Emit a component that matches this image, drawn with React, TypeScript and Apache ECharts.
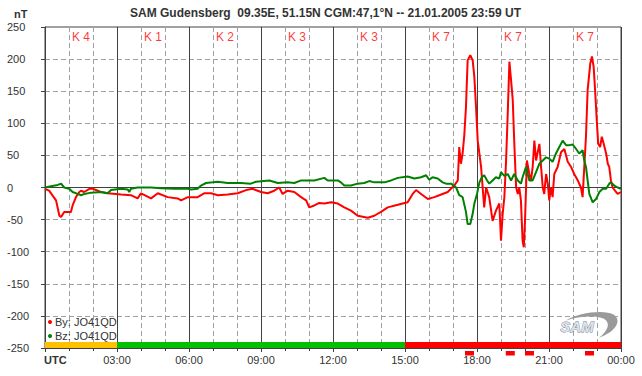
import React, { useEffect, useRef } from "react";
import * as echarts from "echarts";

// ---- data ----
const TITLE = "SAM Gudensberg  09.35E, 51.15N CGM:47,1°N -- 21.01.2005 23:59 UT";
const kValues = [4, 1, 2, 3, 3, 7, 7, 7];
const xTickLabels = ["UTC", "03:00", "06:00", "09:00", "12:00", "15:00", "18:00", "21:00", "00:00"];
const alertStarts = [17.5, 19.2, 20.0, 22.5];
const alertLength = 0.375;

const byHours = [
  0.0, 0.17, 0.46, 0.6, 0.67, 0.8, 1.08, 1.15, 1.29, 1.43, 1.5, 1.63, 1.85, 1.99, 2.2, 2.33, 2.61, 3.17, 3.58, 3.86,
  4.0, 4.42, 4.7, 5.11, 5.53, 5.67, 5.95, 6.36, 6.63, 6.92, 7.2, 7.61, 8.03, 8.38, 8.65, 9.0, 9.28, 9.55, 9.76, 9.9,
  10.11, 10.39, 10.67, 10.88, 11.01, 11.22, 11.43, 11.64, 11.92, 12.2, 12.47, 12.75, 13.03, 13.45, 13.72, 14.0, 14.28,
  14.7, 15.11, 15.32, 15.46, 15.67, 15.95, 16.22, 16.43, 16.78, 17.05, 17.2, 17.26, 17.33, 17.4, 17.47, 17.54, 17.61,
  17.72, 17.82, 17.89, 17.96, 18.03, 18.17, 18.3, 18.38, 18.51, 18.65, 18.79, 18.93, 19.0, 19.07, 19.14, 19.21, 19.28,
  19.35, 19.42, 19.49, 19.55, 19.63, 19.7, 19.76, 19.83, 19.9, 19.95, 20.0, 20.08, 20.18, 20.25, 20.32, 20.39, 20.46,
  20.6, 20.67, 20.74, 20.8, 20.88, 20.95, 21.01, 21.08, 21.15, 21.22, 21.36, 21.5, 21.64, 21.78, 21.92, 22.05, 22.2,
  22.33, 22.4, 22.47, 22.54, 22.61, 22.72, 22.79, 22.86, 22.92, 22.99, 23.05, 23.13, 23.2, 23.28, 23.38, 23.45, 23.51,
  23.58, 23.65, 23.75, 23.86, 24.0,
];
const byValues = [
  -2, -5, -20, -44, -46, -38, -38, -28, -15, -7, -5, -7, -2, -2, -5, -7, -9, -11, -12, -17,
  -9, -17, -9, -15, -17, -20, -15, -15, -9, -9, -12, -11, -9, -4, -2, -7, -9, -5, 0, -10,
  -5, -7, -15, -20, -31, -28, -24, -25, -23, -25, -31, -36, -44, -47, -44, -38, -31,
  -27, -23, -10, -4, -10, -18, -15, -12, -7, 3, 11, 63, 37, 53, 81, 125, 198,
  206, 198, 172, 125, 73, 32, -31, 0, -15, -52, -36, -25, -83, -41, -15, 40, 115,
  196, 167, 136, 73, 0, -10, 0, -20, -83, -93, -52, 42, 21, 11, 32, 73, 42,
  68, 32, 0, -10, 21, 6, -20, 0, -15, 21, 32, 55, 60, 40, 32, 21, 11,
  0, -15, 32, 79, 152, 193, 204, 188, 152, 105, 68, 63, 79, 68, 53, 37, 32,
  11, 0, -5, -10, -7,
];

const bzHours = [
  0.0, 0.25, 0.53, 0.67, 0.8, 1.01, 1.15, 1.36, 1.5, 1.64, 1.92, 2.33, 2.61, 2.75, 3.17, 3.45, 3.51, 3.58, 3.86, 4.42,
  4.83, 5.39, 5.95, 6.08, 6.36, 6.5, 6.71, 6.99, 7.2, 7.61, 8.17, 8.58, 8.79, 9.35, 9.7, 10.11, 10.39, 10.67, 11.22,
  11.64, 11.78, 12.2, 12.33, 12.47, 12.75, 13.03, 13.3, 13.51, 13.72, 14.14, 14.42, 14.7, 15.11, 15.39, 15.67, 15.88,
  16.01, 16.15, 16.36, 16.57, 16.71, 16.92, 17.13, 17.26, 17.4, 17.54, 17.61, 17.72, 17.82, 17.89, 18.0, 18.1, 18.2,
  18.3, 18.42, 18.51, 18.65, 18.79, 18.93, 19.0, 19.14, 19.28, 19.42, 19.55, 19.7, 19.83, 19.9, 20.04, 20.18, 20.32,
  20.46, 20.6, 20.74, 20.88, 21.01, 21.15, 21.29, 21.43, 21.57, 21.71, 21.85, 21.99, 22.13, 22.26, 22.4, 22.47, 22.54,
  22.61, 22.68, 22.82, 22.96, 23.1, 23.24, 23.38, 23.51, 23.58, 23.72, 23.86, 24.0,
];
const bzValues = [
  0, 2, 4, 6, 0, -2, -7, -10, -12, -10, -8, -7, -9, -4, -2, -3, -7, -2, 0, 0,
  -1, -2, -2, -3, -2, 3, 7, 8, 9, 7, 7, 6, 9, 11, 7, 8, 7, 11, 11,
  15, 11, 11, 8, 3, 3, 6, 7, 10, 8, 8, 11, 15, 17, 14, 16, 19,
  12, 16, 14, 8, 6, 6, 0, -12, -15, -38, -57, -57, -41, -25, -10, 8, 16,
  19, 11, 6, 11, 16, 14, 24, 18, 21, 11, 21, 11, 6, 16, 32, 11, 11,
  24, 37, 42, 47, 45, 40, 53, 63, 73, 66, 66, 67, 60, 53, 58, 42, 32,
  11, -10, -23, -18, -7, -2, -2, 6, 8, 3, 0, -2,
];

const zip = (xs: number[], ys: number[]) => xs.map((x, i) => [x, ys[i]]);

const kColor = (k: number) => (k >= 5 ? "#ff0000" : k === 4 ? "#ffc000" : "#00c000");

const SWOOSH =
  "M 0 9 C 12 1, 38 -3, 48 3 C 56 9, 50 21, 33 27 C 42 20, 45 11, 38 7 C 28 3, 12 5, 0 9 Z";

export default function App() {
  const ref = useRef<HTMLDivElement>(null);
  useEffect(() => {
    if (!ref.current) return;
    echarts.graphic.registerShape("swoosh", echarts.graphic.extendPath(SWOOSH, {}));
    const chart = echarts.init(ref.current, null, { renderer: "svg" });
    const axisColor = "#404040";
    const textColor = "#333333";
    const font = "Arial, 'Liberation Sans', sans-serif";
    const kData = kValues.map((k, i) => [i * 3 + 1.5, 235, k]);
    const bandData = kValues.map((k, i) => [i * 3, i * 3 + 3, k]);
    const alertData = alertStarts.map((s) => [s, s + alertLength]);

    chart.setOption({
      animation: false,
      backgroundColor: "#ffffff",
      textStyle: { fontFamily: font },
      grid: {
        left: 45,
        right: 21,
        top: 27,
        bottom: 28,
        show: true,
        borderColor: axisColor,
        borderWidth: 1,
        backgroundColor: "transparent",
      },
      legend: {
        orient: "vertical",
        left: 48,
        top: 316,
        padding: 0,
        icon: "circle",
        itemWidth: 4,
        itemHeight: 4,
        itemGap: 2,
        z: 20,
        data: ["By: JO41QD", "Bz: JO41QD"],
        textStyle: { fontSize: 11, color: textColor, fontFamily: font, padding: [0, 0, 0, -2], lineHeight: 12 },
        selectedMode: false,
      },
      xAxis: [
        {
          type: "value",
          min: 0,
          max: 24,
          interval: 3,
          axisLine: { show: true, onZero: false, lineStyle: { color: axisColor } },
          axisTick: { show: true, length: 4, lineStyle: { color: axisColor } },
          minorTick: { show: true, splitNumber: 3, length: 3, lineStyle: { color: axisColor } },
          axisLabel: {
            fontSize: 11,
            color: textColor,
            margin: 6,
            formatter: (v: number) => (v === 0 ? "" : xTickLabels[Math.round(v / 3)]),
          },
          splitLine: { show: true, lineStyle: { color: axisColor, width: 1 } },
          minorSplitLine: { show: true, lineStyle: { color: "#a0a0a0", type: [5, 3] } },
        },
        {
          type: "value",
          min: 0,
          max: 24,
          position: "bottom",
          axisLine: { show: true, onZero: true, lineStyle: { color: axisColor } },
          axisTick: { show: false },
          axisLabel: { show: false },
          splitLine: { show: false },
        },
      ],
      yAxis: {
        type: "value",
        min: -250,
        max: 250,
        interval: 50,
        axisLine: { show: true, lineStyle: { color: axisColor } },
        axisTick: { show: true, length: 4, lineStyle: { color: axisColor } },
        axisLabel: { fontSize: 11, color: textColor, align: "left", margin: 38 },
        splitLine: { show: true, lineStyle: { color: "#a0a0a0", type: [5, 3] } },
      },
      series: [
        {
          name: "By: JO41QD",
          type: "line",
          data: zip(byHours, byValues),
          showSymbol: false,
          color: "#ff0000",
          lineStyle: { width: 2, color: "#ff0000" },
          z: 3,
        },
        {
          name: "Bz: JO41QD",
          type: "line",
          data: zip(bzHours, bzValues),
          showSymbol: false,
          color: "#008000",
          lineStyle: { width: 2, color: "#008000" },
          z: 4,
        },
        {
          type: "scatter",
          data: kData,
          symbolSize: 0,
          silent: true,
          label: {
            show: true,
            position: "inside",
            formatter: (p: any) => "K " + p.data[2],
            color: "#ff0000",
            fontSize: 12,
            fontFamily: font,
          },
          z: 5,
        },
        {
          type: "custom",
          data: bandData,
          silent: true,
          z: 1,
          renderItem: (params: any, api: any) => {
            const p0 = api.coord([api.value(0), -250]);
            const p1 = api.coord([api.value(1), -250]);
            const k = api.value(2);
            return {
              type: "rect",
              shape: { x: p0[0], y: p0[1] - 6, width: p1[0] - p0[0], height: 6 },
              style: { fill: kColor(k) },
            };
          },
        },
        {
          type: "custom",
          data: alertData,
          silent: true,
          clip: false,
          z: 6,
          renderItem: (params: any, api: any) => {
            const p0 = api.coord([api.value(0), -250]);
            const p1 = api.coord([api.value(1), -250]);
            return {
              type: "rect",
              shape: { x: p0[0], y: p0[1] + 3, width: p1[0] - p0[0], height: 4.5 },
              style: { fill: "#ff0000" },
            };
          },
        },
      ],
      graphic: [
        {
          type: "text",
          left: 130,
          top: 7,
          style: { text: TITLE, fontSize: 12, fontWeight: "bold", fill: textColor, fontFamily: font },
        },
        {
          type: "text",
          left: 14,
          top: 8,
          style: { text: "nT", fontSize: 11, fontWeight: "bold", fill: textColor, fontFamily: font },
        },
        {
          type: "text",
          left: 44,
          top: 354,
          style: { text: xTickLabels[0], fontSize: 11, fontWeight: "bold", fill: textColor, fontFamily: font },
        },
        {
          type: "swoosh",
          x: 566,
          y: 312,
          scaleX: 1,
          scaleY: 0.95,
          style: { fill: "#9a9a9a" },
          z: 10,
        },
        {
          type: "text",
          x: 577,
          y: 326,
          style: {
            text: "SAM",
            fontSize: 15,
            fontStyle: "italic",
            fontWeight: "bold",
            fill: "#dfe4ea",
            stroke: "#6a7890",
            lineWidth: 0.8,
            align: "center",
            verticalAlign: "middle",
            fontFamily: font,
          },
          z: 11,
        },
      ],
    });
    return () => chart.dispose();
  }, []);
  return (
    <div
      ref={ref}
      style={{ position: "absolute", left: 0, top: 0, width: 642, height: 376 }}
    />
  );
}
